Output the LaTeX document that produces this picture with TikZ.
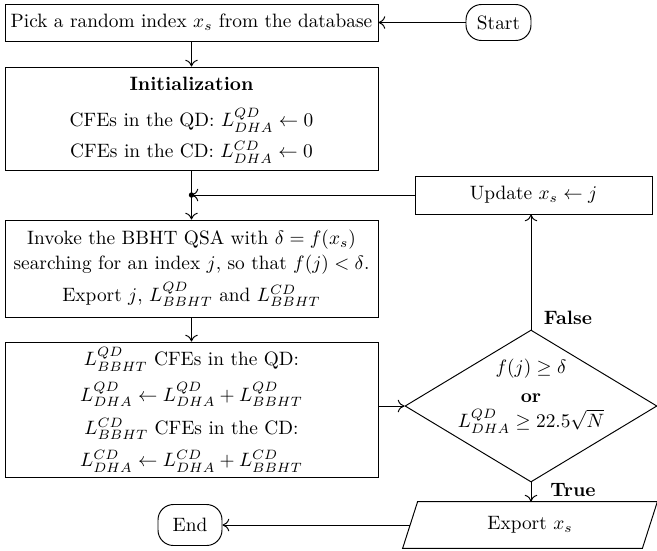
\documentclass[tikz,border=0pt]{standalone}
\usetikzlibrary{shapes.geometric,calc,arrows.meta}
\begin{document}
\begin{tikzpicture}[x=0.517pt,y=-0.517pt,
  box/.style={draw,line width=0.5pt,minimum width=373*0.517pt,align=center,inner sep=2pt},
  term/.style={draw,line width=0.5pt,rounded corners=8pt,align=center,inner sep=2pt},
  conn/.style={line width=0.5pt},
  arr/.style={conn,-{To[length=3.5pt,width=6.5pt]}},
  lab/.style={font=\bfseries,inner sep=1pt}]
\useasboundingbox (0,0) rectangle (657,550);
\node[box,minimum height=37*0.517pt] (pick) at (191.5,22.5) {Pick a random index $x_s$ from the database};
\node[term,minimum width=65*0.517pt,minimum height=36*0.517pt] (start) at (498.5,22.5) {Start};
\node[box,minimum height=103*0.517pt] (init) at (191.5,118.5) {};
\node[align=center,inner sep=0pt] (inittext) at ($(init.center)+(0,1.5)$) {\textbf{Initialization}\\[7pt] CFEs in the QD: $L^{QD}_{DHA}\leftarrow 0$\\[4pt] CFEs in the CD: $L^{CD}_{DHA}\leftarrow 0$};
\coordinate (jn) at (191.5,195);
\node[box,minimum width=237*0.517pt,minimum height=38*0.517pt] (upd) at (533.5,195) {Update $x_s\leftarrow j$};
\node[box,minimum height=97*0.517pt] (bbht) at (191.5,268.5) {Invoke the BBHT QSA with $\delta=f(x_s)$\\[1pt] searching for an index $j$, so that $f(j)<\delta$.\\[3pt] Export $j$, $L^{QD}_{BBHT}$ and $L^{CD}_{BBHT}$};
\node[box,minimum height=135*0.517pt] (acc) at (191.5,409.5) {$L^{QD}_{BBHT}$ CFEs in the QD:\\[5pt] $L^{QD}_{DHA}\leftarrow L^{QD}_{DHA}+L^{QD}_{BBHT}$\\[5pt] $L^{CD}_{BBHT}$ CFEs in the CD:\\[5pt] $L^{CD}_{DHA}\leftarrow L^{CD}_{DHA}+L^{CD}_{BBHT}$};
\node[diamond,draw,line width=0.5pt,minimum width=252*0.517pt,minimum height=152*0.517pt,inner sep=0pt] (dec) at (531,406) {};
\node[align=center,inner sep=0pt] (dectext) at ($(dec.center)+(0,-10)$) {$f(j)\geq\delta$\\[3pt] \textbf{or}\\[1pt] $L^{QD}_{DHA}\geq 22.5\sqrt{N}$};
\node[minimum width=239*0.517pt,minimum height=46*0.517pt,inner sep=0pt] (exp) at (530,525) {Export $x_s$};
\draw[conn] ($(exp.north west)+(7.5,0)$) -- ($(exp.north east)+(7.5,0)$) -- ($(exp.south east)+(-7.5,0)$) -- ($(exp.south west)+(-7.5,0)$) -- cycle;
\node[term,minimum width=64*0.517pt,minimum height=41*0.517pt] (end) at (190,525) {End};
\node[lab] (flab) at (568,318) {False};
\node[lab] (tlab) at (573,490) {True};
\draw[arr] (start) -- (pick);
\draw[arr] (pick) -- (init);
\draw[conn] (init) -- (jn);
\fill (jn) circle (1.4pt);
\draw[arr] (upd) -- (jn);
\draw[arr] (jn) -- (bbht);
\draw[arr] (bbht) -- (acc);
\draw[arr] (acc.east |- dec.west) -- (dec.west);
\draw[arr] (dec.north) -- (dec.north |- upd.south);
\draw[arr] (dec.south) -- (dec.south |- exp.north);
\draw[arr] (exp.west) -- (end);
\end{tikzpicture}
\end{document}
